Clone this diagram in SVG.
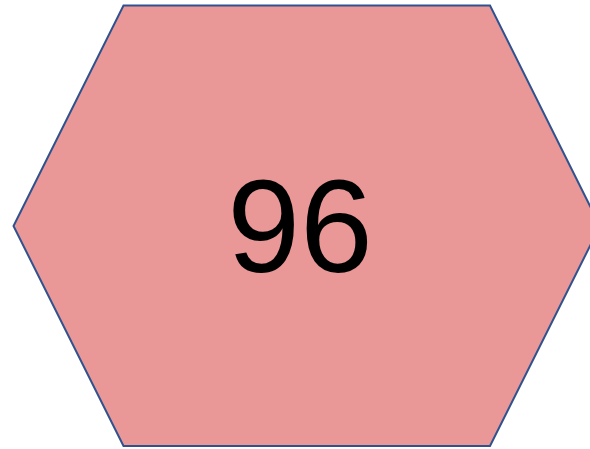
<svg xmlns="http://www.w3.org/2000/svg" width="590" height="449" viewBox="0 0 590 449">
<style>
.hex{fill:#E99797;stroke:#2F528F;stroke-width:2}
.lbl{font-family:"Liberation Sans",Arial,sans-serif;font-size:131px;fill:#000;text-anchor:middle}
</style>
<rect width="590" height="449" fill="#fff"/>
<g id="node-96">
<polygon class="hex" points="123.5,5.5 490,5.5 600,226 490,446 123.5,446 13.5,226"/>
<text class="lbl" x="300" y="272">96</text>
</g>
<g id="connectors"/>
</svg>
